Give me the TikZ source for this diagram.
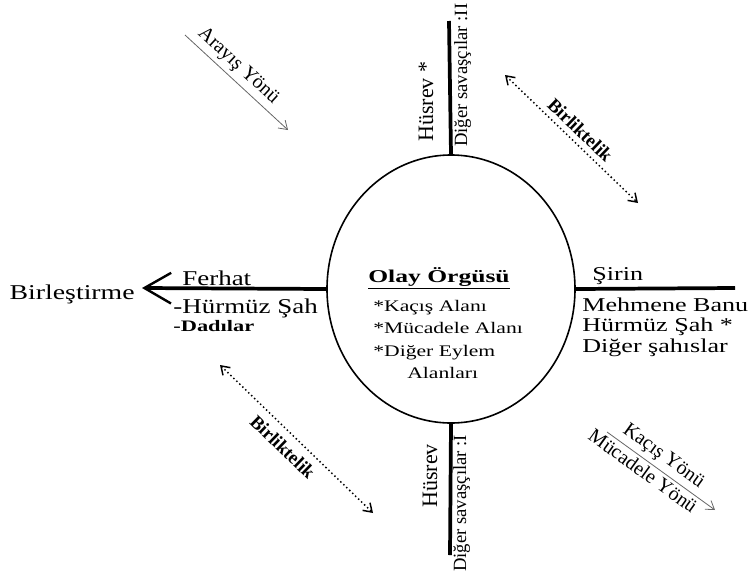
\documentclass[tikz,border=0pt]{standalone}
\usepackage{fontspec}
\setmainfont{Liberation Serif}
\usetikzlibrary{shapes.geometric,arrows.meta,positioning}
\tikzset{
	plot/.style={
		ellipse,
		draw,
		line width=1.2pt
	}
}

\begin{document}
\begin{tikzpicture}[x=0.75pt,y=-0.75pt,>={Straight Barb[length=6pt,width=8pt]}]
		\tikzstyle{bar}=[line width=2.8pt]
		\tikzstyle{left}=[inner sep=0, xscale=1.28, font=\fontsize{15.8}{18}\selectfont]
		\tikzstyle{right}=[inner sep=0, xscale=1.33, anchor=base west, font=\fontsize{14.7}{18}\selectfont]
		\tikzstyle{side}=[inner sep=0, rotate=90, anchor=base west]
		\tikzstyle{lbl}=[inner sep=0, font=\fontsize{15}{18}\selectfont]
		\tikzstyle{dir}=[->, draw=black!60, line width=0.6pt]
		\tikzstyle{together}=[<->, dotted, line width=1.1pt]
		\useasboundingbox (0,0) rectangle (753,579);
		
		\node[plot, minimum width=186pt, minimum height=201pt] (olay) at (451,289) {};
		\node[inner sep=0, anchor=base, xscale=1.42, font=\fontsize{13.5}{16}\selectfont\bfseries] (title) at (439,282) {\underline{Olay Örgüsü}};
		\node[inner sep=0, xscale=1.34, anchor=north west, align=left, font=\fontsize{12.1}{16.7}\selectfont] (alan) at (373,300) {*Kaçış Alanı\\*Mücadele Alanı\\*Diğer Eylem\\\hspace*{19pt}Alanları};
		
		\coordinate (topend) at (449,21);
		\coordinate (botend) at (450,555);
		\coordinate (leftend) at (142,288);
		\coordinate (rightend) at (735,288);
		
		\draw [bar] (olay.north) -- (topend);
		\draw [bar] (olay.south) -- (botend);
		\draw [bar] (olay.east) -- (rightend);
		\draw [bar, -{Straight Barb[length=20pt,width=23pt,line width=1.8pt]}] (olay.west) -- (leftend);
		
		% left side
		\node[left, anchor=base east, xscale=1.03] (birles) at (135,299) {Birleştirme};
		\node[left, anchor=base west] (ferhat) at (182,285.7) {Ferhat};
		\node[left, anchor=base west] (hurmuz) at (173,313) {-Hürmüz Şah};
		\node[inner sep=0, anchor=base west, xscale=1.4, font=\fontsize{12}{14}\selectfont\bfseries] (dadi) at (173,331.7) {-Dadılar};
		
		% right side
		\node[right] (sirin) at (592,280) {Şirin};
		\node[right] (mehmene) at (582,311) {Mehmene Banu};
		\node[right] (hurmuzb) at (582,331) {Hürmüz Şah *};
		\node[right] (diger) at (582,352) {Diğer şahıslar};
		
		% top and bottom
		\node[side, font=\fontsize{16.5}{20}\selectfont] (husrevb) at (433,142) {Hüsrev *};
		\node[side, font=\fontsize{14}{17}\selectfont] (savasb) at (467,147) {Diğer savaşçılar :II};
		\node[side, font=\fontsize{16.5}{20}\selectfont] (husreva) at (437,508) {Hüsrev};
		\node[side, font=\fontsize{14}{17}\selectfont] (savasa) at (466,572) {Diğer savaşçılar :I};
		
		% directions
		\coordinate (ara1) at (185,35);
		\coordinate (ara2) at (288,130);
		\draw[dir] (ara1) -- node[lbl, sloped, above=3pt, pos=0.43] (arayis) {Arayış Yönü} (ara2);
		
		\coordinate (kac1) at (607,432);
		\coordinate (kac2) at (715,510);
		\draw[dir] (kac1) -- node[lbl, sloped, above=3pt, pos=0.45] (kacis) {Kaçış Yönü}
			node[lbl, sloped, below=2pt, pos=0.39] (mucadele) {Mücadele Yönü} (kac2);
		
		\coordinate (bir1) at (505,75);
		\coordinate (bir2) at (638,203);
		\draw[together] (bir1) -- node[sloped, above=4pt, pos=0.5, inner sep=0, font=\fontsize{14}{17}\selectfont\bfseries] (birlikb) {Birliktelik} (bir2);
		
		\coordinate (bir3) at (220,365);
		\coordinate (bir4) at (373,513);
		\draw[together] (bir3) -- node[sloped, below=6pt, pos=0.48, inner sep=0, font=\fontsize{14}{17}\selectfont\bfseries] (birlika) {Birliktelik} (bir4);
		
\end{tikzpicture}
\end{document}
